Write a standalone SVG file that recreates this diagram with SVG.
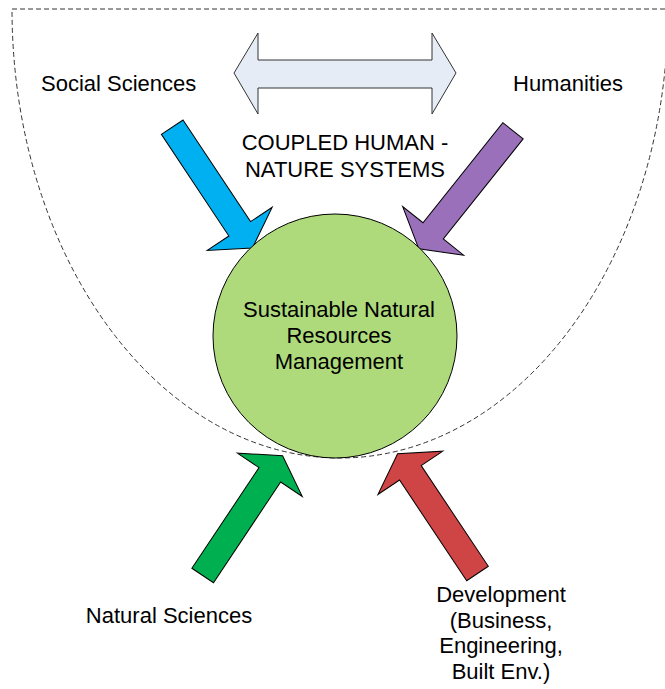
<svg xmlns="http://www.w3.org/2000/svg" width="665" height="689" viewBox="0 0 665 689">
  <style>
    .lbl { font-family: "Liberation Sans", Arial, sans-serif; font-size: 22px; fill: #000; }
    .mid { text-anchor: middle; }
    .blk { stroke: #000; stroke-width: 1; stroke-linejoin: miter; }
    .bound { fill: none; stroke: #333; stroke-width: 1; stroke-dasharray: 5 3; }
  </style>
  <rect width="665" height="689" fill="#fff"/>

  <!-- connectors: discipline arrows feeding the centre (block arrows, tail centre at origin, pointing along +x) -->
  <g id="connectors">
    <g id="arrow-social" transform="translate(172.2 127.2) rotate(56.4)">
      <polygon class="blk" fill="#00B0F0" points="0,-13 122,-13 122,-39 145,0 122,39 122,13 0,13"/>
    </g>
    <g id="arrow-humanities" transform="translate(513 130.8) rotate(128.6)">
      <polygon class="blk" fill="#9A70BA" points="0,-13 128,-13 128,-39 151,0 128,39 128,13 0,13"/>
    </g>
    <g id="arrow-natural" transform="translate(202.7 575.5) rotate(-56.3)">
      <polygon class="blk" fill="#00B050" points="0,-13 121,-13 121,-39 144,0 121,39 121,13 0,13"/>
    </g>
    <g id="arrow-development" transform="translate(477.5 573.5) rotate(-123.7)">
      <polygon class="blk" fill="#CF4444" points="0,-13 121,-13 121,-39 144,0 121,39 121,13 0,13"/>
    </g>
    <g id="arrow-coupling">
      <path fill="#E6ECF6" stroke="#333" stroke-width="1" d="M 234 73 L 258 33 L 258 60 L 432 60 L 432 33 L 456 73 L 432 114 L 432 88 L 258 88 L 258 114 Z"/>
    </g>
  </g>

  <!-- boundary of the coupled human-nature system -->
  <path id="boundary" class="bound" d="M 665 9 H 12 A 328 449 0 0 0 668 9"/>

  <g id="node-snrm">
    <circle cx="335" cy="336" r="122" fill="#AEDA7C" stroke="#000" stroke-width="1"/>
    <text class="lbl mid" x="339" y="316.5">Sustainable Natural</text>
    <text class="lbl mid" x="339" y="342.5">Resources</text>
    <text class="lbl mid" x="339" y="368.5">Management</text>
  </g>

  <g id="node-social">
    <text class="lbl" x="41" y="91">Social Sciences</text>
  </g>
  <g id="node-humanities">
    <text class="lbl" x="513" y="91">Humanities</text>
  </g>
  <g id="node-coupled">
    <text class="lbl mid" x="345" y="149.5">COUPLED HUMAN -</text>
    <text class="lbl mid" x="345" y="176.5">NATURE SYSTEMS</text>
  </g>
  <g id="node-natural">
    <text class="lbl mid" x="169" y="623">Natural Sciences</text>
  </g>
  <g id="node-development">
    <text class="lbl mid" x="501" y="602">Development</text>
    <text class="lbl mid" x="501" y="627.5">(Business,</text>
    <text class="lbl mid" x="501" y="653">Engineering,</text>
    <text class="lbl mid" x="501" y="678.5">Built Env.)</text>
  </g>
</svg>
